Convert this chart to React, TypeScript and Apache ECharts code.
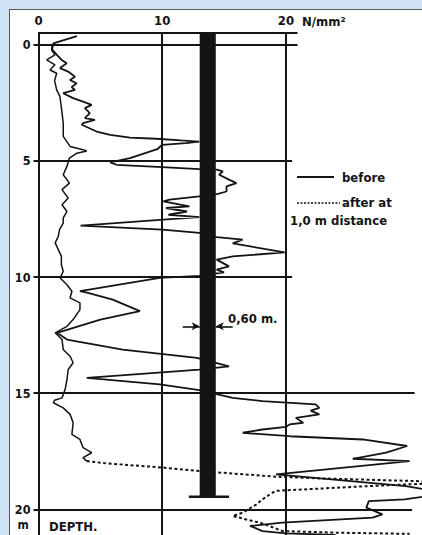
import React, { useEffect, useRef } from "react";
import * as echarts from "echarts";

// ---- data (strength in N/mm², depth in m) ----
const depthTicks = [0, 5, 10, 15, 20];
const strengthTicks = [0, 10, 20];

const before: [number, number][] = [
  [3.1, -0.37], [1.2, -0.05], [1.1, 0.2], [1.5, 0.45], [1.87, 0.66], [2.28, 0.8], [1.74, 1.01],
  [2.4, 1.16], [2.95, 1.38], [2.54, 1.52], [3.08, 1.66], [2.68, 1.83], [2.95, 1.95], [2.0, 2.09],
  [2.8, 2.3], [3.6, 2.45], [4.3, 2.59], [3.75, 2.73], [4.15, 2.95], [3.75, 3.16], [4.56, 3.24],
  [3.6, 3.38], [3.5, 3.45], [4.7, 3.74], [5.8, 3.88], [7.4, 4.0], [9.5, 4.05], [11.5, 4.12],
  [13.0, 4.17], [11.9, 4.24], [10.0, 4.31], [9.6, 4.5], [7.4, 4.88], [5.8, 5.07], [6.3, 5.17],
  [10.0, 5.27], [13.0, 5.36], [14.4, 5.38], [14.9, 5.45], [14.6, 5.6], [15.4, 5.81], [16.0, 5.96],
  [15.2, 6.1], [15.2, 6.32], [14.2, 6.46], [13.0, 6.53], [10.6, 6.67], [10.1, 6.74], [12.2, 6.96],
  [10.3, 7.03], [12.0, 7.18], [10.5, 7.32], [13.0, 7.42], [10.1, 7.53], [3.4, 7.79], [10.0, 7.96],
  [13.0, 8.1], [14.4, 8.28], [16.5, 8.39], [15.7, 8.55], [19.9, 8.94], [15.7, 9.11], [14.4, 9.25],
  [15.4, 9.54], [14.4, 9.68], [15.0, 9.8], [13.0, 9.95], [9.8, 10.04], [3.35, 10.61], [4.0, 10.68],
  [6.0, 10.97], [8.2, 11.47], [5.0, 11.83], [1.5, 12.4], [2.3, 12.69], [6.8, 13.12], [12.8, 13.48],
  [15.4, 13.84], [13.0, 13.98], [3.9, 14.34], [9.8, 14.62], [13.0, 14.87], [15.7, 15.2],
  [18.1, 15.34], [22.4, 15.48], [22.7, 15.63], [22.0, 15.75], [22.7, 15.91], [20.8, 16.06],
  [21.4, 16.27], [20.3, 16.34], [20.0, 16.45], [18.1, 16.56], [16.5, 16.7], [20.3, 16.85],
  [26.2, 16.99], [29.8, 17.27], [28.1, 17.56], [25.4, 17.82], [30.0, 17.92], [19.2, 18.49],
  [29.7, 19.0], [33.0, 19.3], [29.6, 19.57], [26.7, 19.64], [26.5, 19.92], [27.8, 20.21],
  [27.0, 20.35], [19.7, 20.57], [17.1, 20.71], [18.1, 20.93], [20.0, 21.03], [24.0, 21.1],
];

const afterUpper: [number, number][] = [
  [1.1, 0.0], [1.06, 0.23], [1.33, 0.44], [0.66, 0.66], [1.33, 0.87], [0.93, 1.09], [1.47, 1.23],
  [1.3, 1.55], [1.47, 1.95], [1.73, 2.23], [1.87, 2.8], [2.0, 3.38], [2.0, 3.95], [2.55, 4.38],
  [3.6, 4.52], [3.9, 4.58], [3.1, 4.67], [2.5, 4.88], [2.3, 5.24], [2.0, 5.6], [2.5, 5.96],
  [1.9, 6.24], [2.4, 6.6], [1.9, 6.89], [2.3, 7.18], [2.0, 7.46], [2.0, 7.68], [1.7, 7.96],
  [1.6, 8.25], [1.35, 8.53], [1.6, 8.82], [1.85, 9.11], [1.85, 9.47], [2.0, 9.75], [1.75, 10.04],
  [2.3, 10.33], [2.7, 10.61], [2.55, 10.9], [3.35, 11.11], [3.35, 11.4], [2.8, 11.83], [2.3, 12.12],
  [1.35, 12.4], [1.9, 12.69], [2.0, 13.12], [2.55, 13.41], [2.8, 13.69], [2.4, 13.98], [2.3, 14.41],
  [2.15, 14.84], [1.9, 15.2], [1.3, 15.3], [1.2, 15.41], [2.0, 15.63], [2.55, 15.91], [2.8, 16.27],
  [2.7, 16.77], [3.35, 16.99], [3.6, 17.34], [4.3, 17.56], [3.6, 17.77], [3.9, 17.92],
];

const afterLower: [number, number][] = [
  [3.9, 17.92], [5.5, 18.02], [10.1, 18.2], [13.0, 18.35], [19.2, 18.59], [22.5, 18.66],
  [26.5, 18.72], [30.5, 18.78], [33.0, 18.85], [26.5, 19.0], [19.2, 19.2], [18.7, 19.35],
  [18.1, 19.57], [17.6, 19.79], [16.5, 20.14], [15.7, 20.28], [17.3, 20.5], [18.1, 20.6],
  [19.7, 20.93], [24.0, 21.0], [30.0, 21.05],
];

// pile: [left, right, top depth, bottom depth, cap left, cap right]
const pile = [[13.03, 14.33, -0.5, 19.45, 12.16, 15.4]];
const pileDimDepth = 12.12;
const pileDimFrom = [11.66, 15.7];

const verticalRules = [10, 20];
const depthRules: [number, number][] = [
  [-0.5, 20.94], [0, 20.94], [5, 20.5], [10, 20.5], [15, 30.4], [20, 30.2],
];

const FONT = '"DejaVu Sans Condensed", "Liberation Sans Narrow", "DejaVu Sans", sans-serif';
const INK = "#141414";

export default function App() {
  const ref = useRef<HTMLDivElement>(null);
  useEffect(() => {
    if (!ref.current) return;
    const chart = echarts.init(ref.current, undefined, { renderer: "svg" });
    const txt = (text: string, x: number, y: number, size = 13, align = "left") => ({
      type: "text",
      x,
      y,
      z: 10,
      style: {
        text,
        fill: INK,
        font: `bold ${size}px ${FONT}`,
        align,
        verticalAlign: "middle",
      },
    });
    const option: any = {
      animation: false,
      backgroundColor: "transparent",
      grid: { left: 38.5, top: 33, width: 384, height: 502.6 },
      xAxis: {
        type: "value",
        position: "top",
        min: 0,
        max: 31,
        axisLine: { show: false },
        axisTick: { show: false },
        splitLine: { show: false },
        axisLabel: {
          customValues: strengthTicks,
          margin: 6,
          color: INK,
          fontFamily: FONT,
          fontWeight: "bold",
          fontSize: 13,
        },
      },
      yAxis: {
        type: "value",
        inverse: true,
        min: -0.5,
        max: 21.1,
        splitLine: { show: false },
        axisLine: { show: true, lineStyle: { color: INK, width: 2 } },
        axisTick: {
          show: true,
          customValues: depthTicks,
          length: 5,
          lineStyle: { color: INK, width: 2 },
        },
        axisLabel: {
          customValues: depthTicks,
          margin: 8,
          color: INK,
          fontFamily: FONT,
          fontWeight: "bold",
          fontSize: 12.5,
          lineHeight: 12,
        },
      },
      series: [
        {
          type: "line",
          data: [],
          z: 1,
          silent: true,
          markLine: {
            silent: true,
            symbol: ["none", "none"],
            label: { show: false },
            lineStyle: { color: INK, width: 2, type: "solid" },
            data: [
              ...verticalRules.map((v) => [{ coord: [v, -0.5] }, { coord: [v, 21.1] }]),
              ...depthRules.map(([d, to]) => [{ coord: [0, d] }, { coord: [to, d] }]),
            ],
          },
        },
        {
          name: "before",
          type: "line",
          data: before,
          z: 2,
          symbol: "none",
          showSymbol: false,
          clip: true,
          lineStyle: { color: INK, width: 1.8 },
        },
        {
          name: "after at 1,0 m distance",
          type: "line",
          data: afterUpper,
          z: 2,
          symbol: "none",
          showSymbol: false,
          clip: true,
          lineStyle: { color: INK, width: 1.5, type: "solid" },
        },
        {
          name: "after at 1,0 m distance (lower)",
          type: "line",
          data: afterLower,
          z: 2,
          symbol: "none",
          showSymbol: false,
          clip: true,
          lineStyle: { color: INK, width: 2, type: [3, 2.5] },
        },
        {
          type: "custom",
          z: 3,
          data: pile,
          renderItem: (params: any, api: any) => {
            const tl = api.coord([api.value(0), api.value(2)]);
            const br = api.coord([api.value(1), api.value(3)]);
            const cl = api.coord([api.value(4), api.value(3)]);
            const cr = api.coord([api.value(5), api.value(3)]);
            return {
              type: "group",
              children: [
                {
                  type: "rect",
                  shape: { x: tl[0], y: tl[1], width: br[0] - tl[0], height: br[1] - tl[1] },
                  style: { fill: INK },
                },
                {
                  type: "line",
                  shape: { x1: cl[0], y1: cl[1], x2: cr[0], y2: cr[1] },
                  style: { stroke: INK, lineWidth: 2.5 },
                },
              ],
            };
          },
        },
        {
          type: "line",
          data: [],
          z: 4,
          silent: true,
          markLine: {
            silent: true,
            symbol: ["none", "arrow"],
            symbolSize: [6, 8],
            label: { show: false },
            lineStyle: { color: INK, width: 1.6, type: "solid" },
            data: [
              [{ coord: [pileDimFrom[0], pileDimDepth] }, { coord: [pile[0][0], pileDimDepth] }],
              [{ coord: [pileDimFrom[1], pileDimDepth] }, { coord: [pile[0][1], pileDimDepth] }],
            ],
          },
        },
      ],
      graphic: [
        txt("N/mm²", 302, 21, 13),
        txt("m", 23, 525, 12, "center"),
        txt("DEPTH.", 49, 526, 13),
        txt("0,60 m.", 228, 318, 13),
        {
          type: "line",
          z: 10,
          shape: { x1: 297, y1: 177, x2: 334, y2: 177 },
          style: { stroke: INK, lineWidth: 2 },
        },
        txt("before", 342, 177, 13),
        {
          type: "line",
          z: 10,
          shape: { x1: 297, y1: 203, x2: 340, y2: 203 },
          style: { stroke: INK, lineWidth: 1.6, lineDash: [2, 1.5] },
        },
        txt("after at", 342, 202, 13),
        txt("1,0 m distance", 290, 220, 13),
      ],
    };
    chart.setOption(option);
    return () => chart.dispose();
  }, []);

  return (
    <div
      style={{
        position: "fixed",
        left: 0,
        top: 0,
        width: 422,
        height: 535,
        background: "#cfe2f4",
        overflow: "hidden",
      }}
    >
      <div
        style={{
          position: "absolute",
          left: 9,
          top: 9,
          right: -4,
          bottom: -4,
          background: "#fff",
          border: "1px solid #555",
        }}
      />
      <div ref={ref} style={{ position: "absolute", left: 0, top: 0, width: 422, height: 535 }} />
    </div>
  );
}
